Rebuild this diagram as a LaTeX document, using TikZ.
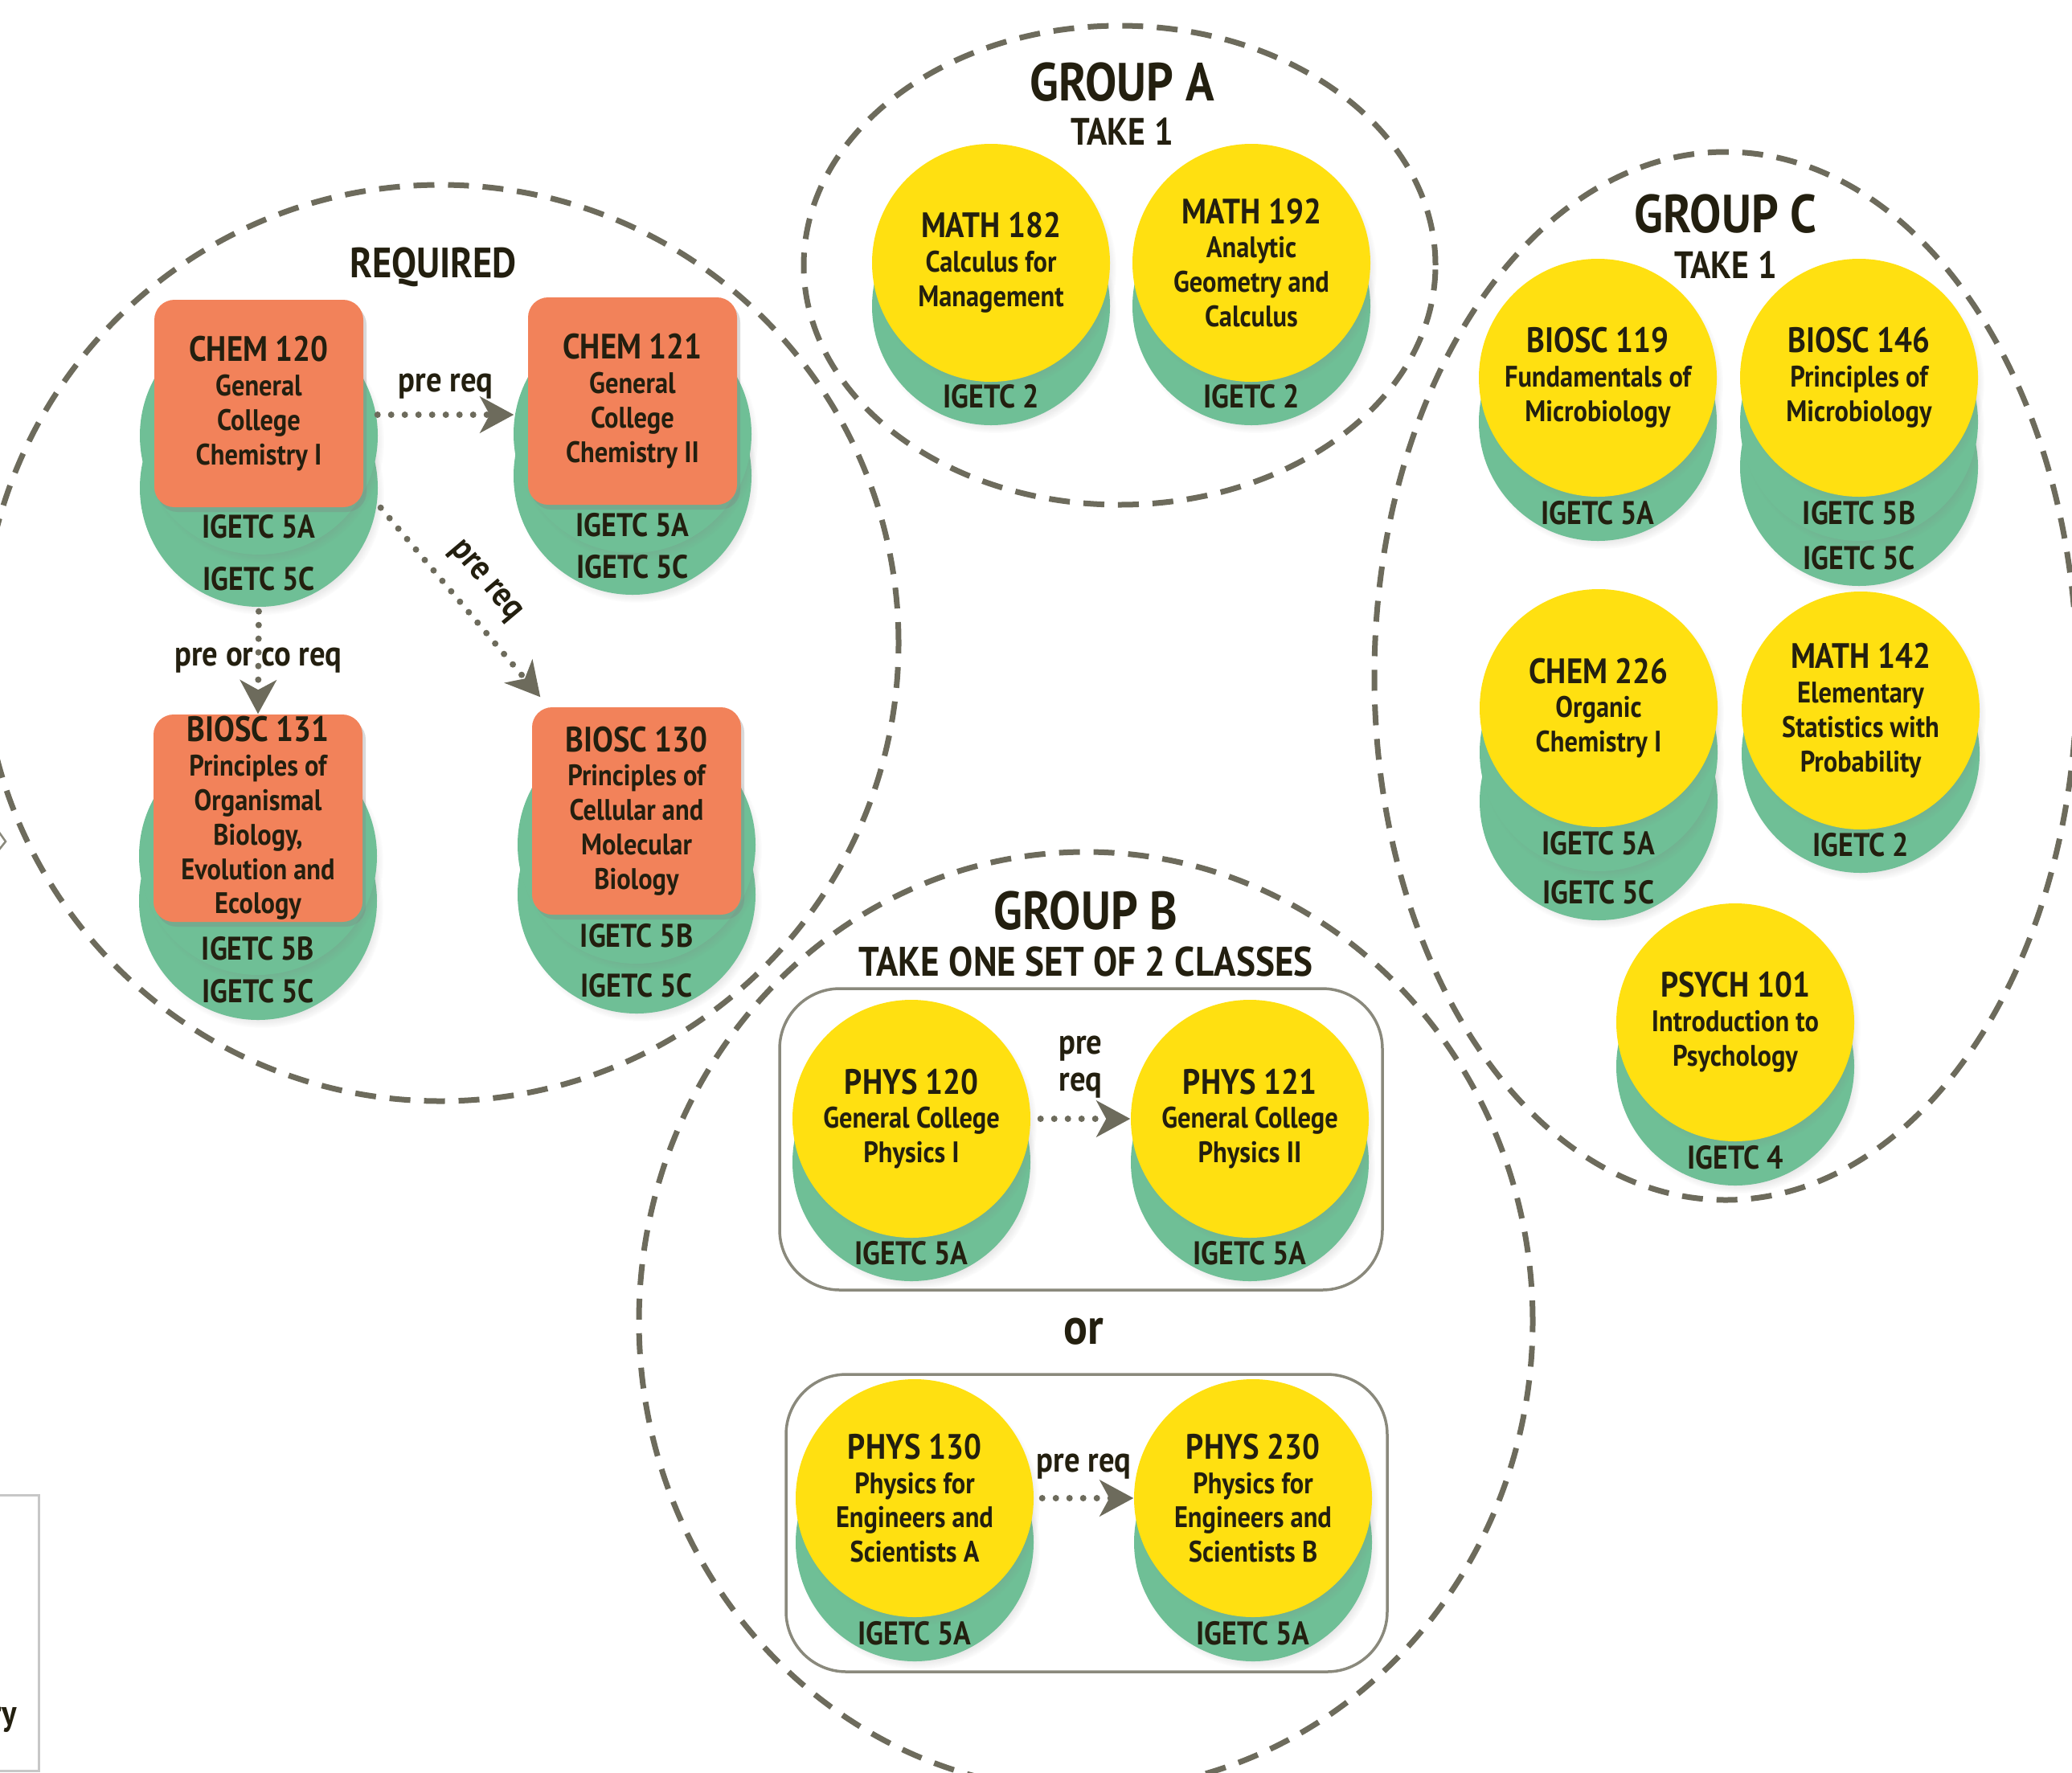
\documentclass[tikz,border=0pt]{standalone}
\usepackage{fontspec}
\setmainfont{PT Sans}[FakeStretch=0.88]
\usetikzlibrary{arrows.meta, shadows}

\definecolor{cardorange}{HTML}{F2825A}
\definecolor{crsyellow}{HTML}{FFE011}
\definecolor{discgreen}{HTML}{6FBF96}
\definecolor{linegray}{HTML}{6D6B5C}
\definecolor{boxgray}{HTML}{8A897C}
\definecolor{inkdark}{HTML}{231F0F}

\newcommand{\crsno}[1]{{\fontsize{12.5}{14}\selectfont #1}}

\tikzset{
  grpline/.style={draw=linegray, line width=0.7mm, dash pattern=on 2.6mm off 1.7mm},
  setbox/.style={draw=boxgray, line width=0.35mm, rounded corners=0.75cm},
  disc/.style={circle, fill=discgreen, minimum size=2.96cm, inner sep=0pt,
    circular drop shadow={shadow xshift=0.05cm, shadow yshift=-0.07cm, shadow scale=1.02, opacity=0.35}},
  yel/.style={circle, fill=crsyellow, minimum size=2.96cm, inner sep=0pt, align=center,
    circular drop shadow={shadow xshift=0.05cm, shadow yshift=-0.07cm, shadow scale=1.02, opacity=0.35}},
  card/.style={rectangle, rounded corners=0.25cm, fill=cardorange, minimum width=2.6cm,
    minimum height=2.58cm, inner sep=0pt, align=center,
    drop shadow={shadow xshift=0.04cm, shadow yshift=-0.06cm, opacity=0.3}},
  igetc/.style={font=\bfseries\fontsize{11.6}{13}\selectfont},
  lbl/.style={font=\bfseries\fontsize{12.5}{13}\selectfont, text=inkdark},
  title/.style={font=\bfseries\fontsize{13.5}{15}\selectfont, text=inkdark},
  bigtitle/.style={font=\bfseries\fontsize{19}{21}\selectfont, text=inkdark},
  prereq/.style={draw=linegray, line width=0.8mm, dash pattern=on 0pt off 1.7mm, line cap=round,
    -{Stealth[length=0.42cm, width=0.45cm, inset=0.12cm, fill=linegray]}},
}

\begin{document}
\begin{tikzpicture}[font=\bfseries\fontsize{10.5}{12.2}\selectfont, text=inkdark]
  \useasboundingbox (0,0) rectangle (25.78,-22.05);
  \clip (0,0) rectangle (25.78,-22.05);
  % \draw (0,0) grid (25,-22);

  % cropped bits at the left edge
  \draw[boxgray, line width=0.25mm] (-0.05,-10.30) -- (0.07,-10.47) -- (-0.05,-10.62);
  \draw[draw=black!22, line width=0.3mm] (-0.5,-18.60) rectangle (0.48,-22.03);
  \node[lbl, anchor=east] (cutoff) at (0.33,-21.40) {ry};

  % groups
  \draw[grpline] (5.48,-8.00) circle (5.70);
  \draw[grpline] (13.93,-3.30) ellipse [x radius=3.93, y radius=2.98];
  \draw[grpline] (21.47,-8.41) ellipse [x radius=4.37, y radius=6.52];
  \draw[grpline] (13.51,-16.44) ellipse [x radius=5.56, y radius=5.84];

  \draw[setbox] (9.70,-12.30) rectangle (17.20,-16.05);
  \draw[setbox] (9.78,-17.10) rectangle (17.26,-20.80);

  \node[title, font=\bfseries\fontsize{15}{17}\selectfont] (req) at (5.39,-3.32) {REQUIRED};
  \node[bigtitle] (grpA) at (13.96,-1.02) {GROUP A};
  \node[title] (takeA) at (13.96,-1.64) {TAKE 1};
  \node[bigtitle] (grpC) at (21.47,-2.66) {GROUP C};
  \node[title] (takeC) at (21.47,-3.30) {TAKE 1};
  \node[bigtitle] (grpB) at (13.51,-11.33) {GROUP B};
  \node[title, font=\bfseries\fontsize{14.6}{16}\selectfont] (takeB) at (13.51,-11.97) {TAKE ONE SET OF 2 CLASSES};
  \node[font=\bfseries\fontsize{18}{20}\selectfont] (orB) at (13.48,-16.57) {or};

  % required
  \node[disc] (chemAb) at (3.22,-6.07) {};
  \node[igetc] (chemAbl) at (3.22,-7.20) {IGETC 5C};
  \node[disc] (chemAa) at (3.22,-5.42) {};
  \node[igetc] (chemAal) at (3.22,-6.55) {IGETC 5A};
  \node[card] (chemA) at (3.22,-5.02) {\crsno{CHEM 120}\\General\\College\\Chemistry I};

  \node[disc] (chemBb) at (7.87,-5.92) {};
  \node[igetc] (chemBbl) at (7.87,-7.05) {IGETC 5C};
  \node[disc] (chemBa) at (7.87,-5.40) {};
  \node[igetc] (chemBal) at (7.87,-6.53) {IGETC 5A};
  \node[card] (chemB) at (7.87,-4.99) {\crsno{CHEM 121}\\General\\College\\Chemistry II};

  \node[disc] (biosAb) at (3.21,-11.21) {};
  \node[igetc] (biosAbl) at (3.21,-12.33) {IGETC 5C};
  \node[disc] (biosAa) at (3.21,-10.65) {};
  \node[igetc] (biosAal) at (3.21,-11.80) {IGETC 5B};
  \node[card] (biosA) at (3.21,-10.18) {\crsno{BIOSC 131}\\Principles of\\Organismal\\Biology,\\Evolution and\\Ecology};

  \node[disc] (biosBb) at (7.92,-11.13) {};
  \node[igetc] (biosBbl) at (7.92,-12.26) {IGETC 5C};
  \node[disc] (biosBa) at (7.92,-10.51) {};
  \node[igetc] (biosBal) at (7.92,-11.64) {IGETC 5B};
  \node[card] (biosB) at (7.92,-10.09) {\crsno{BIOSC 130}\\Principles of\\Cellular and\\Molecular\\Biology};

  \draw[prereq] ([xshift=0.17cm,yshift=-0.14cm]chemA.east) -- ([xshift=-0.17cm,yshift=-0.17cm]chemB.west)
    node[midway, above=0.04cm, lbl] (lblAB) {pre req};
  \draw[prereq, shorten <=0.05cm] (chemAb.south) -- (biosA.north)
    node[midway, lbl] (lblAC) {pre or co req};
  \draw[prereq] ([xshift=0.21cm]chemA.south east) -- ([xshift=0.11cm,yshift=0.12cm]biosB.north west)
    node[midway, sloped, above=0.08cm, lbl] (lblAD) {pre req};

  % group A
  \node[disc] (mathAd) at (12.33,-3.81) {};
  \node[igetc] (mathAl) at (12.33,-4.93) {IGETC 2};
  \node[yel] (mathA) at (12.33,-3.27) {\crsno{MATH 182}\\Calculus for\\Management};

  \node[disc] (mathBd) at (15.57,-3.81) {};
  \node[igetc] (mathBl) at (15.57,-4.93) {IGETC 2};
  \node[yel] (mathB) at (15.57,-3.27) {\crsno{MATH 192}\\Analytic\\Geometry and\\Calculus};

  % group C
  \node[disc] (micAd) at (19.88,-5.25) {};
  \node[igetc] (micAl) at (19.88,-6.38) {IGETC 5A};
  \node[yel] (micA) at (19.88,-4.70) {\crsno{BIOSC 119}\\Fundamentals of\\Microbiology};

  \node[disc] (micBdb) at (23.13,-5.81) {};
  \node[igetc] (micBlb) at (23.13,-6.94) {IGETC 5C};
  \node[disc] (micBda) at (23.13,-5.25) {};
  \node[igetc] (micBla) at (23.13,-6.38) {IGETC 5B};
  \node[yel] (micB) at (23.13,-4.70) {\crsno{BIOSC 146}\\Principles of\\Microbiology};

  \node[disc] (orgdb) at (19.89,-9.97) {};
  \node[igetc] (orglb) at (19.89,-11.10) {IGETC 5C};
  \node[disc] (orgda) at (19.89,-9.36) {};
  \node[igetc] (orgla) at (19.89,-10.49) {IGETC 5A};
  \node[yel] (org) at (19.89,-8.81) {\crsno{CHEM 226}\\Organic\\Chemistry I};

  \node[disc] (statd) at (23.15,-9.38) {};
  \node[igetc] (statl) at (23.15,-10.51) {IGETC 2};
  \node[yel] (stat) at (23.15,-8.84) {\crsno{MATH 142}\\Elementary\\Statistics with\\Probability};

  \node[disc] (psyd) at (21.59,-13.27) {};
  \node[igetc] (psyl) at (21.59,-14.40) {IGETC 4};
  \node[yel] (psy) at (21.59,-12.72) {\crsno{PSYCH 101}\\Introduction to\\Psychology};

  % group B
  \node[disc] (phAd) at (11.34,-14.46) {};
  \node[igetc] (phAl) at (11.34,-15.59) {IGETC 5A};
  \node[yel] (phA) at (11.34,-13.92) {\crsno{PHYS 120}\\General College\\Physics I};

  \node[disc] (phBd) at (15.55,-14.46) {};
  \node[igetc] (phBl) at (15.55,-15.59) {IGETC 5A};
  \node[yel] (phB) at (15.55,-13.92) {\crsno{PHYS 121}\\General College\\Physics II};

  \node[disc] (phCd) at (11.38,-19.19) {};
  \node[igetc] (phCl) at (11.38,-20.32) {IGETC 5A};
  \node[yel] (phC) at (11.38,-18.64) {\crsno{PHYS 130}\\Physics for\\Engineers and\\Scientists A};

  \node[disc] (phDd) at (15.59,-19.19) {};
  \node[igetc] (phDl) at (15.59,-20.32) {IGETC 5A};
  \node[yel] (phD) at (15.59,-18.64) {\crsno{PHYS 230}\\Physics for\\Engineers and\\Scientists B};

  \draw[prereq, shorten <=0.12cm] (phA) -- (phB)
    node[midway, above=0.1cm, lbl, align=center] (lblAB2) {pre\\req};
  \draw[prereq, shorten <=0.1cm] (phC) -- (phD)
    node[midway, above=0.08cm, lbl] (lblCD) {pre req};
\end{tikzpicture}
\end{document}
